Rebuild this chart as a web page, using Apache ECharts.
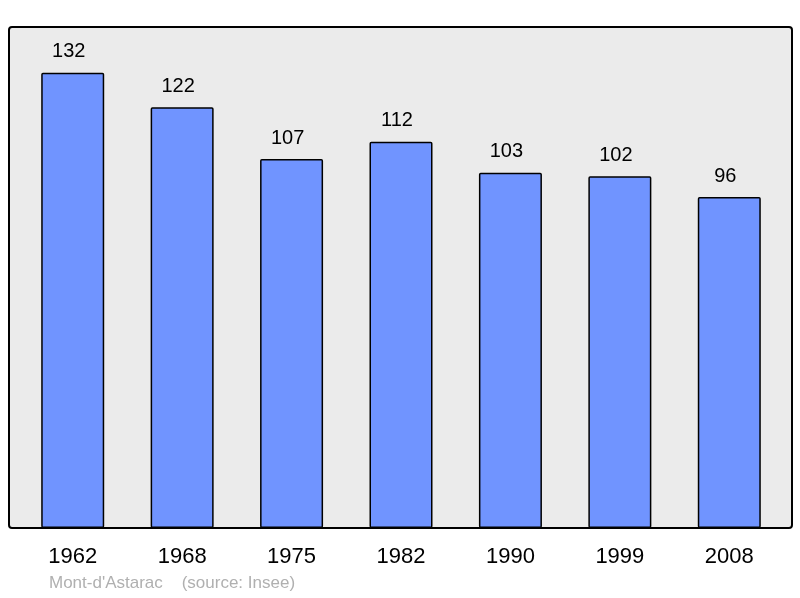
<!DOCTYPE html>
<html>
<head>
<meta charset="utf-8">
<script src="https://cdn.jsdelivr.net/npm/echarts@6/dist/echarts.min.js"></script>
<style>
  html, body { margin: 0; padding: 0; background: #fff; }
  #chart { width: 800px; height: 598px; }
</style>
</head>
<body>
<div id="chart"></div>
<script>
const years = ['1962', '1968', '1975', '1982', '1990', '1999', '2008']
const population = [132, 122, 107, 112, 103, 102, 96]
const caption = "Mont-d'Astarac    (source: Insee)"

const chart = echarts.init(document.getElementById('chart'))

const option = {
  animation: false,
  textStyle: { fontFamily: 'Liberation Sans, Arial, sans-serif' },
  graphic: [
    {
      type: 'rect',
      z: -10,
      shape: { x: 9, y: 27, width: 783, height: 501, r: 3 },
      style: { fill: '#ebebeb', stroke: '#000', lineWidth: 2 }
    },
    {
      type: 'text',
      left: 49,
      top: 575,
      style: { text: caption, fill: '#b0b0b0', fontSize: 17, fontFamily: 'Liberation Sans, Arial, sans-serif' }
    }
  ],
  grid: { left: 18, top: 27, width: 766, height: 501 },
  xAxis: {
    type: 'category',
    data: years,
    axisLine: { show: false },
    axisTick: { show: false },
    axisLabel: { color: '#000', fontSize: 22, margin: 18 }
  },
  yAxis: {
    type: 'value',
    min: 0,
    max: 145.3,
    show: false,
    splitLine: { show: false }
  },
  series: [
    {
      type: 'bar',
      data: population,
      barWidth: 63,
      itemStyle: { color: '#7094ff', borderColor: '#000', borderWidth: 1.5, borderRadius: 1 },
      label: { show: true, position: 'top', distance: 11, offset: [-4, 0], color: '#000', fontSize: 20 }
    }
  ]
}

chart.setOption(option)
</script>
</body>
</html>
